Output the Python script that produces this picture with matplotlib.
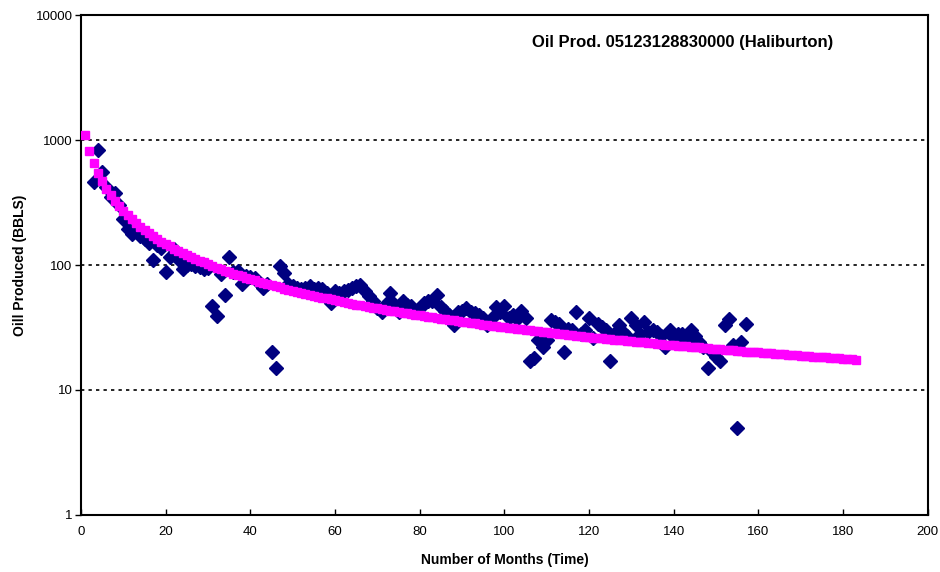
import matplotlib
matplotlib.use("Agg")
import matplotlib.pyplot as plt
from matplotlib.ticker import FixedLocator, FixedFormatter, NullLocator

plt.rcParams["font.family"] = ["Liberation Sans", "DejaVu Sans"]

# Observed monthly oil production (BBLS), months 3..157
months_obs = list(range(3, 158))
oil_obs = [
    460, 830, 550, 420, 350, 380, 300, 235, 195, 178,      # 3-12
    200, 172, 160, 150, 110, 145, 138, 88, 116, 135,       # 13-22
    112, 93, 100, 102, 99, 96, 93, 95, 47, 39,             # 23-32
    85, 58, 115, 88, 90, 70, 82, 80, 78, 72,               # 33-42
    66, 70, 20, 15, 99, 86, 70, 68, 66, 64,                # 43-52
    66, 68, 64, 66, 64, 60, 50, 62, 60, 62,                # 53-62
    63, 66, 68, 69, 62, 57, 52, 45, 42, 49,                # 63-72
    60, 49, 42, 52, 48, 47, 44, 45, 50, 52,                # 73-82
    52, 58, 46, 43, 40, 33, 42, 43, 45, 42,                # 83-92
    41, 40, 38, 33, 38, 46, 42, 47, 38, 40,                # 93-102
    37, 43, 38, 17, 18, 25, 22, 25, 36, 35,                # 103-112
    34, 20, 31, 30, 42, 28, 30, 38, 26, 34,                # 113-122
    32, 30, 17, 28, 33, 29, 27, 38, 33, 28,                # 123-132
    35, 29, 30, 29, 27, 22, 30, 26, 28, 28,                # 133-142
    25, 30, 27, 24, 22, 15, 20, 18.5, 17, 33,              # 143-152
    37, 23, 5, 24, 34,                                     # 153-157
]

# Fitted decline curve (BBLS), months 1..183
months_fit = list(range(1, 184))
oil_fit = [
    1100, 821, 655, 544, 466, 407, 362, 325, 296, 271,
    250, 232, 216, 203, 191, 180, 171, 162, 154, 147,
    141, 135, 130, 125, 120, 116, 112, 108, 105, 101,
    98.2, 95.3, 92.6, 90.0, 87.5, 85.2, 83.1, 81.0, 79.0, 77.1,
    75.3, 73.6, 72.0, 70.4, 68.9, 67.5, 66.1, 64.8, 63.5, 62.3,
    61.1, 60.0, 58.9, 57.8, 56.8, 55.8, 54.9, 54.0, 53.1, 52.2,
    51.4, 50.6, 49.8, 49.0, 48.3, 47.6, 46.9, 46.2, 45.6, 45.0,
    44.3, 43.7, 43.2, 42.6, 42.0, 41.5, 41.0, 40.5, 40.0, 39.5,
    39.0, 38.5, 38.1, 37.6, 37.2, 36.8, 36.4, 36.0, 35.6, 35.2,
    34.8, 34.4, 34.1, 33.7, 33.4, 33.0, 32.7, 32.4, 32.0, 31.7,
    31.4, 31.1, 30.8, 30.5, 30.2, 30.0, 29.7, 29.4, 29.2, 28.9,
    28.6, 28.4, 28.1, 27.9, 27.7, 27.4, 27.2, 27.0, 26.7, 26.5,
    26.3, 26.1, 25.9, 25.7, 25.5, 25.3, 25.1, 24.9, 24.7, 24.5,
    24.3, 24.1, 24.0, 23.8, 23.6, 23.4, 23.3, 23.1, 22.9, 22.8,
    22.6, 22.5, 22.3, 22.2, 22.0, 21.9, 21.7, 21.6, 21.4, 21.3,
    21.1, 21.0, 20.9, 20.7, 20.6, 20.5, 20.3, 20.2, 20.1, 20.0,
    19.8, 19.7, 19.6, 19.5, 19.4, 19.3, 19.1, 19.0, 18.9, 18.8,
    18.7, 18.6, 18.5, 18.4, 18.3, 18.2, 18.1, 18.0, 17.9, 17.8,
    17.7, 17.6, 17.5,
]

y_ticks = [1, 10, 100, 1000, 10000]
y_labels = ["1", "10", "100", "1000", "10000"]
x_ticks = list(range(0, 201, 20))

title = "Oil Prod. 05123128830000 (Haliburton)"

fig = plt.figure(figsize=(9.4, 5.72), dpi=100)
ax = fig.add_axes([0.0862, 0.0997, 0.9008, 0.874])

ax.plot(months_obs, oil_obs, linestyle="none", marker="D", markersize=7,
        color="#000080", zorder=3)
ax.plot(months_fit, oil_fit, linestyle="none", marker="s", markersize=5.5,
        color="#FF00FF", zorder=4)

ax.set_yscale("log")
ax.set_ylim(1, 10000)
ax.set_xlim(0, 200)
ax.yaxis.set_major_locator(FixedLocator(y_ticks))
ax.yaxis.set_major_formatter(FixedFormatter(y_labels))
ax.yaxis.set_minor_locator(NullLocator())
ax.set_xticks(x_ticks)

for v in y_ticks[1:-1]:
    ax.axhline(v, color="black", linewidth=1.2, linestyle=(0, (2, 2.5)), zorder=1)

for s in ax.spines.values():
    s.set_linewidth(1.5)
    s.set_color("black")

ax.tick_params(axis="y", direction="out", length=4, width=1, labelsize=9.5, pad=2)
ax.tick_params(axis="x", direction="in", length=4, width=1, labelsize=9.5, pad=8)

ax.set_xlabel("Number of Months (Time)", fontsize=10, fontweight="bold", labelpad=11)
ax.set_ylabel("Oill Produced (BBLS)", fontsize=10, fontweight="bold", labelpad=6)

ax.text(0.711, 0.946, title, transform=ax.transAxes, ha="center", va="center",
        fontsize=12, fontweight="bold")

fig.savefig("out.png", dpi=100)
